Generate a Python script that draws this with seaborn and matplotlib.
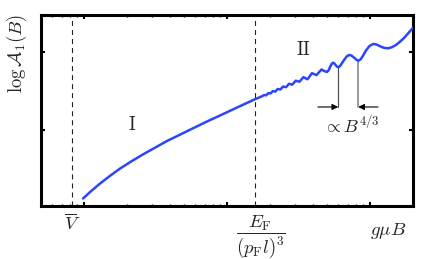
import numpy as np
import pandas as pd
import matplotlib
matplotlib.use("Agg")
import matplotlib.pyplot as plt
import seaborn as sns

# ---- data (x in decades of g*mu*B, y = log A_1) ----
log_gmuB = [-0.007, 0.042, 0.112, 0.182, 0.252, 0.329, 0.413, 0.497, 0.580, 0.671,
            0.762, 0.853, 0.951, 1.070, 1.196, 1.245, 1.260, 1.274, 1.289, 1.304,
            1.320, 1.337, 1.355, 1.373, 1.392, 1.413, 1.434, 1.457, 1.481, 1.507,
            1.535, 1.563, 1.594, 1.626, 1.661, 1.680, 1.699, 1.710, 1.720, 1.731,
            1.741, 1.750, 1.760, 1.769, 1.778, 1.790, 1.804, 1.822, 1.839, 1.855,
            1.871, 1.888, 1.906, 1.918, 1.934, 1.951, 1.972, 1.997, 2.023, 2.045,
            2.070, 2.098, 2.128, 2.154, 2.182, 2.210, 2.238, 2.266, 2.292, 2.300]
log_A1 = [0.122, 0.205, 0.314, 0.413, 0.506, 0.596, 0.688, 0.774, 0.859, 0.940,
          1.022, 1.103, 1.186, 1.288, 1.395, 1.432, 1.449, 1.445, 1.473, 1.468,
          1.498, 1.493, 1.526, 1.519, 1.557, 1.549, 1.592, 1.582, 1.632, 1.619,
          1.677, 1.650, 1.728, 1.704, 1.776, 1.756, 1.744, 1.763, 1.803, 1.844,
          1.862, 1.855, 1.833, 1.812, 1.805, 1.818, 1.856, 1.906, 1.946, 1.962,
          1.954, 1.929, 1.900, 1.888, 1.904, 1.951, 2.019, 2.077, 2.103, 2.096,
          2.074, 2.053, 2.047, 2.062, 2.090, 2.132, 2.179, 2.237, 2.291, 2.308]

vline_log = [-0.084, 1.199]             # V-bar and E_F/(p_F l)^3 markers
period_log = [1.778, 1.918]              # two minima marking one period
period_top = [1.805, 1.888]              # curve values at those minima
arrow_y = 1.295
arrow_tail_log = [1.636, 2.056]

xtick_labels = [r'$\overline{V}$', r'$\dfrac{E_\mathrm{F}}{(p_\mathrm{F}l)^3}$', r'$g\mu B$']
xtick_label_log = [-0.084, 1.241, 2.126]
xtick_label_y = [-0.094, -0.162, -0.13]
xtick_label_size = [13.5, 13.5, 13.5]
regions = [r'$\mathrm{I}$', r'$\mathrm{II}$']
region_log = [0.336, 1.538]
region_y = [1.064, 2.026]

df = pd.DataFrame({"B": np.power(10.0, log_gmuB), "logA": log_A1})

sns.set_theme(style="ticks")
plt.rcParams["mathtext.fontset"] = "cm"
plt.rcParams["font.family"] = ["DejaVu Serif"]
plt.rcParams["lines.scale_dashes"] = False

fig = plt.figure(figsize=(4.22, 2.59), dpi=100)
ax = fig.add_axes([41 / 422, 53 / 259, 372 / 422, 191 / 259])

sns.lineplot(data=df, x="B", y="logA", ax=ax, sort=False, estimator=None,
             color="#2b45ff", lw=1.8, zorder=3)

ax.set_xscale("log")
ax.set_xlim(0.5, 200)
ax.set_ylim(0.026, 2.474)
ax.set_xticks([1, 10, 100])
ax.set_xticks([k * 10.0 ** d for d in (-1, 0, 1, 2) for k in range(2, 10)
               if 0.5 <= k * 10.0 ** d <= 200], minor=True)
ax.set_yticks([1, 2])
ax.set_yticks([], minor=True)
ax.set_xticklabels([])
ax.set_xticklabels([], minor=True)
ax.set_yticklabels([])
ax.set_xlabel("")
ax.set_ylabel("")
ax.tick_params(which="major", direction="in", length=3, width=1.5,
               top=True, right=True, color="black")
ax.tick_params(which="minor", direction="in", length=1.5, width=1.0,
               top=True, right=True, color="black")
for s in ax.spines.values():
    s.set_linewidth(2.2)
    s.set_color("black")

for v in vline_log:
    ax.axvline(10 ** v, color="#222222", lw=0.8, dashes=(3.6, 2.9), zorder=1)

# period marker
ax.plot([10 ** period_log[0]] * 2, [arrow_y, period_top[0]], color="#555555", lw=0.9, zorder=2)
ax.plot([10 ** period_log[1]] * 2, [arrow_y, period_top[1]], color="#9a9a9a", lw=1.4, zorder=2)
for tail, tip in zip(arrow_tail_log, period_log):
    ax.annotate("", xy=(10 ** tip, arrow_y), xytext=(10 ** tail, arrow_y),
                arrowprops=dict(arrowstyle="-|>", color="black", lw=0.8,
                                mutation_scale=9, shrinkA=0, shrinkB=0))
ax.text(10 ** 1.87, 1.06, r'$\propto B^{4/3}$', ha="center", va="center", fontsize=13)

for t, x, y in zip(regions, region_log, region_y):
    ax.text(10 ** x, y, t, ha="center", va="center", fontsize=13.5)

for t, x, y, fs in zip(xtick_labels, xtick_label_log, xtick_label_y, xtick_label_size):
    ax.text(10 ** x, y, t, ha="center", va="center", fontsize=fs,
            transform=ax.get_xaxis_transform())

fig.text(16.5 / 422, 1 - 53 / 259, r'$\log\mathcal{A}_1(B)$', rotation=90,
         ha="center", va="center", fontsize=13.5)

fig.savefig("out.png", dpi=100)
